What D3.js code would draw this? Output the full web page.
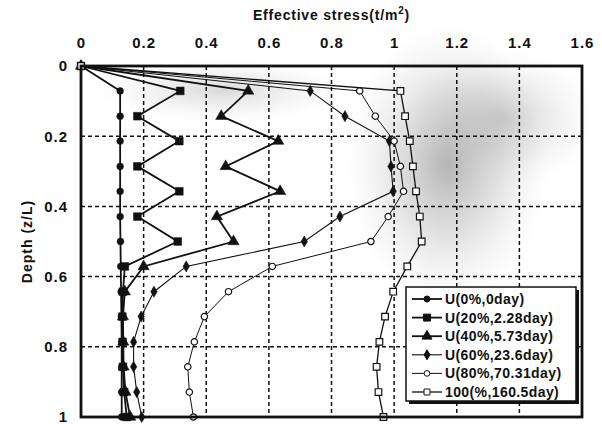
<!DOCTYPE html>
<html>
<head>
<meta charset="utf-8">
<script src="https://cdn.jsdelivr.net/npm/d3@7"></script>
<style>
  body { margin: 0; background: #fff; }
  text { font-family: "Liberation Sans", Arial, sans-serif; fill: #111; font-weight: bold; }
</style>
</head>
<body>
<div id="chart"></div>
<script>
// depth points (z/L)
var depth = [0, 0.071, 0.143, 0.214, 0.286, 0.357, 0.429, 0.5, 0.571, 0.643, 0.714, 0.786, 0.857, 0.929, 1];

// effective stress (t/m2) for each degree of consolidation
var u0   = [0, 0.125, 0.125, 0.125, 0.125, 0.125, 0.125, 0.126, 0.127, 0.128, 0.129, 0.13, 0.13, 0.13, 0.13];
var u20  = [0, 0.317, 0.18, 0.314, 0.18, 0.314, 0.18, 0.309, 0.14, 0.134, 0.132, 0.133, 0.134, 0.138, 0.146];
var u40  = [0, 0.534, 0.448, 0.63, 0.462, 0.636, 0.434, 0.487, 0.2, 0.14, 0.134, 0.135, 0.136, 0.142, 0.157];
var u60  = [0, 0.732, 0.843, 0.985, 0.99, 0.997, 0.827, 0.713, 0.336, 0.233, 0.192, 0.168, 0.168, 0.178, 0.194];
var u80  = [0, 0.89, 0.94, 1.0, 1.02, 1.03, 0.981, 0.926, 0.611, 0.471, 0.394, 0.362, 0.341, 0.346, 0.359];
var u100 = [0, 1.02, 1.035, 1.05, 1.06, 1.07, 1.082, 1.088, 1.042, 0.997, 0.971, 0.953, 0.944, 0.95, 0.966];

var labels = ["U(0%,0day)", "U(20%,2.28day)", "U(40%,5.73day)", "U(60%,23.6day)", "U(80%,70.31day)", "100(%,160.5day)"];
var xTicks = [0, 0.2, 0.4, 0.6, 0.8, 1, 1.2, 1.4, 1.6];
var yTicks = [0, 0.2, 0.4, 0.6, 0.8, 1];

var series = [
  {name: labels[0], vals: u0,   sym: d3.symbolCircle,  size: 36, fill: "#111", lw: 1.8},
  {name: labels[1], vals: u20,  sym: d3.symbolSquare,  size: 60, fill: "#111", lw: 1.8},
  {name: labels[2], vals: u40,  sym: d3.symbolTriangle, size: 55, fill: "#111", lw: 1.8},
  {name: labels[3], vals: u60,  sym: d3.symbolDiamond, size: 36, fill: "#111", lw: 1.1},
  {name: labels[4], vals: u80,  sym: d3.symbolCircle,  size: 32, fill: "#fff", lw: 1},
  {name: labels[5], vals: u100, sym: d3.symbolSquare,  size: 44, fill: "#fff", lw: 1.3}
];

var W = 602, H = 424;
var margin = {top: 66, right: 20, bottom: 7, left: 81},
    width = W - margin.left - margin.right,
    height = H - margin.top - margin.bottom;

var svg = d3.select("#chart").append("svg")
    .attr("width", W)
    .attr("height", H);

var defs = svg.append("defs");
var grad = defs.append("radialGradient").attr("id", "shade");
grad.append("stop").attr("offset", "0%").attr("stop-color", "#777").attr("stop-opacity", 0.55);
grad.append("stop").attr("offset", "50%").attr("stop-color", "#999").attr("stop-opacity", 0.3);
grad.append("stop").attr("offset", "100%").attr("stop-color", "#ccc").attr("stop-opacity", 0);

var g = svg.append("g")
    .attr("transform", "translate(" + margin.left + "," + margin.top + ")");

var x = d3.scaleLinear().domain([0, 1.6]).range([0, width]);
var y = d3.scaleLinear().domain([0, 1]).range([0, height]);

// scan shading in the upper right of the plot
g.append("ellipse")
    .attr("cx", x(1.17)).attr("cy", y(0.28))
    .attr("rx", x(0.32)).attr("ry", y(0.4))
    .attr("fill", "url(#shade)");
g.append("ellipse")
    .attr("cx", x(1.35)).attr("cy", y(0.15))
    .attr("rx", x(0.3)).attr("ry", y(0.2))
    .attr("fill", "url(#shade)").attr("opacity", 0.6);
g.append("ellipse")
    .attr("cx", x(0.45)).attr("cy", y(0.07))
    .attr("rx", x(0.4)).attr("ry", y(0.09))
    .attr("fill", "url(#shade)").attr("opacity", 0.5);

// dashed grid
g.append("g").selectAll("line").data(xTicks.slice(1, -1)).enter().append("line")
    .attr("x1", function(d) { return x(d); }).attr("x2", function(d) { return x(d); })
    .attr("y1", 0).attr("y2", height)
    .attr("stroke", "#111").attr("stroke-width", 1.5).attr("stroke-dasharray", "4,3");
g.append("g").selectAll("line").data(yTicks.slice(1, -1)).enter().append("line")
    .attr("y1", function(d) { return y(d); }).attr("y2", function(d) { return y(d); })
    .attr("x1", 0).attr("x2", width)
    .attr("stroke", "#111").attr("stroke-width", 1.5).attr("stroke-dasharray", "4,3");

// axes (labels only, frame drawn below)
var xAxis = g.append("g")
    .call(d3.axisTop(x).tickValues(xTicks).tickSize(0).tickPadding(18).tickFormat(d3.format("")));
var yAxis = g.append("g")
    .call(d3.axisLeft(y).tickValues(yTicks).tickSize(0).tickPadding(13).tickFormat(d3.format("")));
[xAxis, yAxis].forEach(function(a) {
  a.select(".domain").remove();
  a.selectAll("text").style("font-size", "15px").style("letter-spacing", "1px")
      .style("font-weight", "bold").attr("fill", "#111");
});

var line = d3.line()
    .x(function(d) { return x(d[0]); })
    .y(function(d) { return y(d[1]); });

series.forEach(function(s) {
  var pts = s.vals.map(function(v, i) { return [v, depth[i]]; });
  g.append("path")
      .datum(pts)
      .attr("d", line)
      .attr("fill", "none")
      .attr("stroke", "#111")
      .attr("stroke-width", s.lw);
  g.append("g").selectAll("path").data(pts).enter().append("path")
      .attr("d", d3.symbol().type(s.sym).size(s.size))
      .attr("transform", function(d) { return "translate(" + x(d[0]) + "," + y(d[1]) + ")"; })
      .attr("fill", s.fill)
      .attr("stroke", "#111")
      .attr("stroke-width", s.fill === "#fff" ? 1.2 : 0.5);
});

// frame
g.append("rect")
    .attr("width", width).attr("height", height)
    .attr("fill", "none").attr("stroke", "#111").attr("stroke-width", 2.8);

// titles
svg.append("text")
    .attr("x", margin.left + width / 2).attr("y", 20)
    .attr("text-anchor", "middle")
    .style("font-size", "14px").style("letter-spacing", "0.8px")
    .html("Effective stress(t/m<tspan dy='-6' style='font-size:10px'>2</tspan><tspan dy='6'>)</tspan>");
svg.append("text")
    .attr("transform", "translate(32," + (margin.top + height / 2) + ") rotate(-90)")
    .attr("text-anchor", "middle")
    .style("font-size", "14px").style("letter-spacing", "1px")
    .text("Depth (z/L)");

// legend
var lx = 406, ly = 287, lw = 170, lh = 114;
var leg = svg.append("g");
leg.append("rect").attr("x", lx + 3).attr("y", ly + 3).attr("width", lw).attr("height", lh).attr("fill", "#111");
leg.append("rect").attr("x", lx).attr("y", ly).attr("width", lw).attr("height", lh)
    .attr("fill", "#fff").attr("stroke", "#111").attr("stroke-width", 1.5);

var item = leg.selectAll(".item").data(series).enter().append("g")
    .attr("transform", function(d, i) { return "translate(" + lx + "," + (ly + 12 + i * 18.6) + ")"; });
item.append("line").attr("x1", 6).attr("x2", 36).attr("stroke", "#111")
    .attr("stroke-width", function(d) { return d.lw; });
item.append("path")
    .attr("d", function(d) { return d3.symbol().type(d.sym).size(d.size * 0.8)(); })
    .attr("transform", "translate(21,0)")
    .attr("fill", function(d) { return d.fill; })
    .attr("stroke", "#111").attr("stroke-width", 1);
item.append("text")
    .attr("x", 39).attr("dy", "0.35em")
    .style("font-size", "14px").style("letter-spacing", "0.4px")
    .text(function(d) { return d.name; });
</script>
</body>
</html>
